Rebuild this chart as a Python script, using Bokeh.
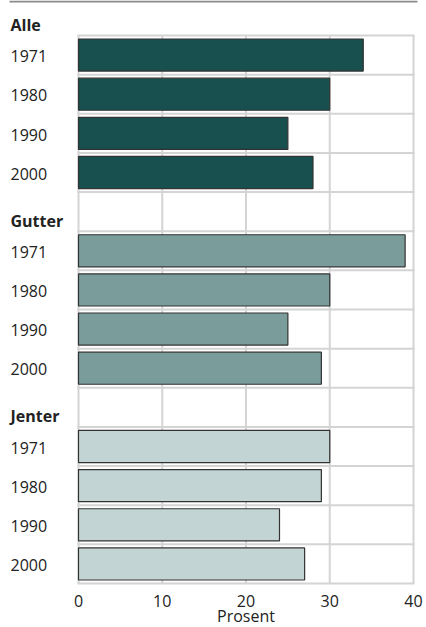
from bokeh.plotting import figure
from bokeh.models import Range1d, ColumnDataSource
from bokeh.core.properties import value
from bokeh.embed import file_html
from bokeh.resources import INLINE

groups = ["Alle", "Gutter", "Jenter"]
years = ["1971", "1980", "1990", "2000"]
alle = [34, 30, 25, 28]
gutter = [39, 30, 25, 29]
jenter = [30, 29, 24, 27]
colors = ["#17504f", "#7a9d9c", "#c2d4d3"]
x_ticks = [0, 10, 20, 30, 40]
x_tick_labels = ["0", "10", "20", "30", "40"]
axis_title = "Prosent"

FONT = "Open Sans"
TXT = "#222222"
GRID = "#d4d4d4"

# layout constants (pixels)
W, H = 426, 627
X0_PX, X40_PX = 78, 413
GRID_TOP_PX, GRID_BOT_PX = 35, 583
N_ROWS = 14
px_per_x = (X40_PX - X0_PX) / 40.0
px_per_row = (GRID_BOT_PX - GRID_TOP_PX) / N_ROWS

def px_to_y(py):
    return (py - GRID_TOP_PX) / px_per_row

def px_to_x(px):
    return (px - X0_PX) / px_per_x

p = figure(width=W, height=H, output_backend="svg", toolbar_location=None,
           x_range=Range1d(px_to_x(0), px_to_x(W)),
           y_range=Range1d(px_to_y(H), px_to_y(0)),
           min_border_left=0, min_border_right=0, min_border_top=0, min_border_bottom=0)
p.xaxis.visible = False
p.yaxis.visible = False
p.xgrid.visible = False
p.ygrid.visible = False
p.outline_line_color = None
p.background_fill_color = "white"
p.border_fill_color = "white"

# grid drawn only over the data region
p.segment(x0=x_ticks, x1=x_ticks, y0=[0] * len(x_ticks), y1=[N_ROWS] * len(x_ticks),
          line_color=GRID, line_width=2)
hy = list(range(N_ROWS + 1))
p.segment(x0=[0] * len(hy), x1=[40] * len(hy), y0=hy, y1=hy,
          line_color=GRID, line_width=2, line_cap="square")

# top rule
ly = px_to_y(1)
p.segment(x0=[px_to_x(9)], x1=[px_to_x(417)], y0=[ly], y1=[ly],
          line_color="#8a8a8a", line_width=2)

label_x = px_to_x(10)

series = [alle, gutter, jenter]
hdr_y, hdr_t = [], []
yr_y, yr_t = [], []
for gi, (name, vals) in enumerate(zip(groups, series)):
    base = gi * 5
    ys = [base + k + 0.5 for k in range(len(years))]
    src = ColumnDataSource(dict(y=ys, right=vals))
    p.hbar(y="y", left=0, right="right", height=0.82, source=src,
           fill_color=colors[gi], line_color="#333333", line_width=1.2)
    hdr_y.append(base - 1 + 0.5 + 0.23)
    hdr_t.append(name)
    for k, yr in enumerate(years):
        yr_y.append(base + k + 0.5 + 0.03)
        yr_t.append(yr)

p.text(x=[label_x] * len(hdr_y), y=hdr_y, text=hdr_t, text_font=value(FONT),
       text_font_size="16px", text_font_style="bold", text_color=TXT,
       text_baseline="middle", text_align="left")
p.text(x=[label_x] * len(yr_y), y=yr_y, text=yr_t, text_font=value(FONT),
       text_font_size="16px", text_color=TXT,
       text_baseline="middle", text_align="left")

# x tick labels and axis title
p.text(x=x_ticks, y=[px_to_y(600)] * len(x_ticks), text=x_tick_labels,
       text_font=value(FONT), text_font_size="16px", text_color=TXT,
       text_baseline="middle", text_align="center")
p.text(x=[20], y=[px_to_y(626)], text=[axis_title],
       text_font=value(FONT), text_font_size="16px", text_color=TXT,
       text_baseline="bottom", text_align="center")

open("out.html", "w").write(file_html(p, INLINE))
